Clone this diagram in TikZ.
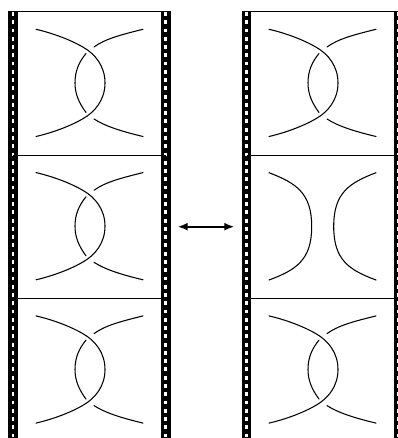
\documentclass[tikz,border=0pt]{standalone}
\usetikzlibrary{arrows.meta}
\tikzset{
	strand/.style={line width=0.8pt, line cap=round},
	rail/.style={line width=7.4pt},
	holes/.style={white, line width=1.9pt, dash pattern=on 2.9pt off 3.3pt},
	edge line/.style={line width=0.7pt},
	swap/.style={line width=1.4pt, {Latex[length=7.5pt,width=6pt]}-{Latex[length=7.5pt,width=6pt]}}
}
\begin{document}
\begin{tikzpicture}[x=0.75pt, y=-0.75pt]
	\useasboundingbox (0,0) rectangle (398,438);
	\clip (0,0) rectangle (398,438);
	\foreach \xl/\xr in {13.2/165.7, 246.5/398.7}{
		\foreach \xa in {\xl,\xr}{
			\draw[rail] (\xa,11) -- (\xa,438);
			\draw[holes] (\xa,12) -- (\xa,438);
		}
		\foreach \ya in {11.5,155,298}{
			\draw[edge line] (\xl,\ya) -- (\xr,\ya);
		}
	}
	% crossings, left film and right film
	\foreach \dx/\dy in {0/0, 0/143.3, 0/286.6, 233/0, 233/286.6}{
		\begin{scope}[shift={(\dx,\dy)}]
			\draw[strand] (36,29.3) .. controls (52,33) and (70,39.5) .. (83.3,47.3) .. controls (95,54) and (105,66) .. (105,82.9) .. controls (105,99.8) and (95,111.8) .. (83.3,118.5) .. controls (70,126.3) and (52,132.8) .. (36,136.5);
			\draw[strand] (143,29.3) .. controls (120,35) and (105,39) .. (94,47);
			\draw[strand] (86,53.5) .. controls (79,62) and (75,71) .. (75,82.9) .. controls (75,94) and (79,103) .. (86,112.5);
			\draw[strand] (94,119) .. controls (105,126) and (120,131) .. (143,136.5);
		\end{scope}
	}
	% smoothed cell
	\draw[strand] (269,172.7) .. controls (296,183) and (311.7,193) .. (311.7,226.5) .. controls (311.7,260) and (296,270) .. (269,280);
	\draw[strand] (376,172.7) .. controls (349,183) and (333.7,193) .. (333.7,226.5) .. controls (333.7,260) and (349,270) .. (376,280);
	\coordinate (from) at (177.7,226.7);
	\coordinate (to) at (234.3,226.7);
	\draw[swap] (from) -- (to);
\end{tikzpicture}
\end{document}
